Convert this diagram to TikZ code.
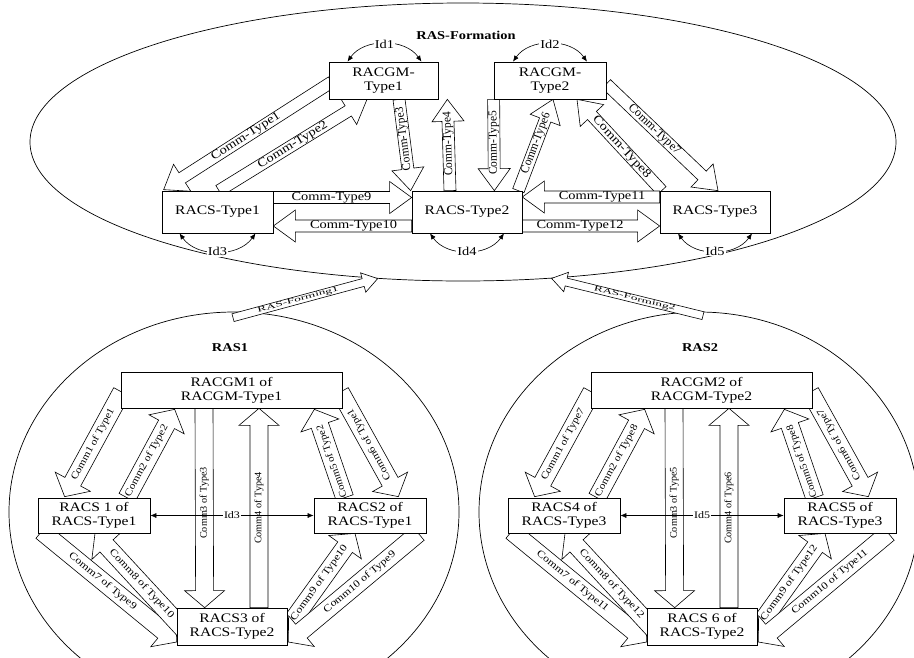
\documentclass[tikz,border=0pt]{standalone}
\usepackage{fontspec}
\setmainfont{Liberation Serif}[FakeStretch=1.2]
\usetikzlibrary{arrows.meta, calc, shapes.geometric, backgrounds}

% block arrow sizes (half shaft, half head, head length)
\newcommand{\arrsw}{6pt}
\newcommand{\arrhw}{16pt}
\newcommand{\arrhl}{22pt}
% hollow block arrow with its label: [label opts]{tail}{tip}{text}
\newcommand{\commarrow}[4][]{%
	\path (#2) coordinate (ca-s) (#3) coordinate (ca-t);
	\path ($(ca-t)!\arrhl!(ca-s)$) coordinate (ca-h);
	\draw[blockarrow] ($(ca-s)!\arrsw!90:(ca-t)$) -- ($(ca-h)!\arrsw!-90:(ca-s)$)
	-- ($(ca-h)!\arrhw!-90:(ca-s)$) -- (ca-t) -- ($(ca-h)!\arrhw!90:(ca-s)$)
	-- ($(ca-h)!\arrsw!90:(ca-s)$) -- ($(ca-s)!\arrsw!-90:(ca-t)$) -- cycle;
	\path let \p1=($(ca-t)-(ca-s)$), \n1={atan2(\y1,\x1)},
	\n2={ifthenelse(or(\n1>100,\n1<-80),\n1+180,\n1)} in
	node[commlabel, rotate=\n2, #1] at ($(ca-s)!0.5!(ca-h)$) {#4};
}

\tikzset{
	racbox/.style={draw, fill=white, line width=0.7pt, align=center, inner sep=1pt,
		font=\fontsize{13}{14}\selectfont},
	blockarrow/.style={draw, fill=white, line width=0.6pt, line join=miter},
	commlabel/.style={inner sep=0pt, font=\fontsize{12}{12}\selectfont},
	idarc/.style={line width=0.6pt, {Latex[length=6pt,width=5pt]}-{Latex[length=6pt,width=5pt]}},
	idlabel/.style={fill=white, inner sep=1pt, font=\fontsize{12}{12}\selectfont},
	regiontitle/.style={font=\bfseries\fontsize{12}{12}\selectfont},
	region/.style={draw, ellipse, line width=0.7pt, inner sep=0pt},
}

\begin{document}
\begin{tikzpicture}[x=1pt, y=-1pt]
	\useasboundingbox (0,0) rectangle (914,657);
	% RAS-Formation
	\node[region, minimum width=866pt, minimum height=278pt] (form) at (463,142) {};
	\node[regiontitle] (formtitle) at (466,35) {RAS-Formation};
	\node[racbox, minimum width=109pt, minimum height=37pt] (gm1) at (383.5,80.5) {RACGM-\\Type1};
	\node[racbox, minimum width=112pt, minimum height=37pt] (gm2) at (550,80.5) {RACGM-\\Type2};
	\node[racbox, minimum width=111pt, minimum height=42pt] (cs1) at (217.5,212) {RACS-Type1};
	\node[racbox, minimum width=110pt, minimum height=42pt] (cs2) at (467,212) {RACS-Type2};
	\node[racbox, minimum width=110pt, minimum height=42pt] (cs3) at (715,212) {RACS-Type3};
	\begin{scope}[on background layer]
		\commarrow[xshift=-13]{$(gm1.west)+(3,1.5)$}{$(cs1.north west)+(2,-1)$}{Comm-Type1}
		\commarrow[xshift=11]{$(cs1.north)+(1.5,0)$}{$(gm1.south)+(-16.5,0)$}{Comm-Type2}
		\commarrow[xscale=0.8, xshift=-6]{$(gm1.south)+(15.5,0)$}{$(cs2.north west)+(-1,0)$}{Comm-Type3}
		\commarrow[xscale=0.8, xshift=15]{$(cs2.north)+(-17,0)$}{$(gm1.south east)+(9,0)$}{Comm-Type4}
		\commarrow[xscale=0.8, xshift=-11]{gm2.south west}{$(cs2.north east)+(-28,0)$}{Comm-Type5}
		\commarrow[xscale=0.8, xshift=16]{$(cs2.north east)+(-4,0)$}{$(gm2.south)+(3,0)$}{Comm-Type6}
		\commarrow[xscale=0.85]{$(gm2.east)+(0,3.5)$}{$(cs3.north)+(3,0)$}{Comm-Type7}
		\commarrow[xshift=-8]{$(cs3.north west)+(2,0)$}{$(gm2.south)+(27,0)$}{Comm-Type8}
		\commarrow{$(cs1.east)+(0,-14.5)$}{$(cs2.west)+(0,-14.5)$}{Comm-Type9}
		\commarrow{$(cs2.west)+(0,14)$}{$(cs1.east)+(0,14)$}{Comm-Type10}
		\commarrow{$(cs3.west)+(0,-15)$}{$(cs2.east)+(0,-15)$}{Comm-Type11}
		\commarrow{$(cs2.east)+(0,14)$}{$(cs3.west)+(0,14)$}{Comm-Type12}
	\end{scope}
	\draw[idarc] ($(gm1.north)+(-36,0)$) to[bend left=55] node[idlabel] {Id1} ($(gm1.north)+(38,0)$);
	\draw[idarc] ($(gm2.north)+(-37,0)$) to[bend left=55] node[idlabel] {Id2} ($(gm2.north)+(37,0)$);
	\draw[idarc] ($(cs1.south)+(-38,0)$) to[bend right=55] node[idlabel] {Id3} ($(cs1.south)+(38,0)$);
	\draw[idarc] ($(cs2.south)+(-37,0)$) to[bend right=55] node[idlabel] {Id4} ($(cs2.south)+(37,0)$);
	\draw[idarc] ($(cs3.south)+(-37,0)$) to[bend right=55] node[idlabel] {Id5} ($(cs3.south)+(37,0)$);

	% RAS1
	\node[region, minimum width=450pt, minimum height=400pt] (ras1) at (234,512) {};
	\node[regiontitle] (ras1title) at (230,348) {RAS1};
	\node[racbox, minimum width=221pt, minimum height=36pt] (gm11) at (231.5,390) {RACGM1 of\\RACGM-Type1};
	\node[racbox, minimum width=112pt, minimum height=35pt] (cs11) at (94,515.5) {RACS 1 of\\RACS-Type1};
	\node[racbox, minimum width=112pt, minimum height=35pt] (cs12) at (370,515.5) {RACS2 of\\RACS-Type1};
	\node[racbox, minimum width=110pt, minimum height=37pt] (cs13) at (232,626.5) {RACS3 of\\RACS-Type2};
	% RAS2
	\node[region, minimum width=440pt, minimum height=400pt] (ras2) at (699,512) {};
	\node[regiontitle] (ras2title) at (700,348) {RAS2};
	\node[racbox, minimum width=221pt, minimum height=36pt] (gm21) at (701.5,390) {RACGM2 of\\RACGM-Type2};
	\node[racbox, minimum width=112pt, minimum height=35pt] (cs21) at (564,515.5) {RACS4 of\\RACS-Type3};
	\node[racbox, minimum width=112pt, minimum height=35pt] (cs22) at (840,515.5) {RACS5 of\\RACS-Type3};
	\node[racbox, minimum width=110pt, minimum height=37pt] (cs23) at (702,626.5) {RACS 6 of\\RACS-Type2};
	\begin{scope}[on background layer]
		\renewcommand{\arrsw}{9pt}\renewcommand{\arrhw}{20pt}\renewcommand{\arrhl}{17pt}
		\tikzset{commlabel/.append style={font=\fontsize{10}{10}\selectfont}}
		% inside RAS1
		\commarrow[xscale=0.95, xshift=-9]{$(gm11.west)+(1,2)$}{$(cs11.north west)+(27,-1)$}{Comm1 of Type1}
		\commarrow[xscale=0.95]{$(cs11.north)+(33,0)$}{$(gm11.south west)+(54,1)$}{Comm2 of Type2}
		\commarrow[xscale=0.85, xshift=-4]{$(gm11.south)+(-27.5,0)$}{$(cs13.north west)+(28,0)$}{Comm3 of Type3}
		\commarrow[xscale=0.85, xshift=10]{$(cs13.north)+(27,0)$}{$(gm11.south)+(27.5,0)$}{Comm4 of Type4}
		\commarrow[rotate=180, xscale=0.9]{$(cs12.north west)+(31,0)$}{$(gm11.south east)+(-28,1)$}{Comm5 of Type2}
		\commarrow[rotate=180, xscale=0.95, xshift=-9]{$(gm11.east)+(-2,2)$}{$(cs12.north east)+(-28,-1)$}{Comm6 of Type1}
		\commarrow{$(cs11.south west)+(4,-2)$}{$(cs13.west)+(0,15.5)$}{Comm7 of Type9}
		\commarrow[xshift=-6]{$(cs13.west)+(8,4)$}{$(cs11.south)+(1,0)$}{Comm8 of Type10}
		\commarrow[xshift=7]{$(cs13.east)+(-2,4)$}{$(cs12.south)+(-15,0)$}{Comm9 of Type10}
		\commarrow{$(cs12.south east)+(-8,0)$}{$(cs13.east)+(1,15.5)$}{Comm10 of Type9}
		% inside RAS2
		\commarrow[xscale=0.95, xshift=-9]{$(gm21.west)+(1,2)$}{$(cs21.north west)+(27,-1)$}{Comm1 of Type7}
		\commarrow[xscale=0.95]{$(cs21.north)+(33,0)$}{$(gm21.south west)+(54,1)$}{Comm2 of Type8}
		\commarrow[xscale=0.85, xshift=-4]{$(gm21.south)+(-27.5,0)$}{$(cs23.north west)+(28,0)$}{Comm3 of Type5}
		\commarrow[xscale=0.85, xshift=10]{$(cs23.north)+(27,0)$}{$(gm21.south)+(27.5,0)$}{Comm4 of Type6}
		\commarrow[rotate=180, xscale=0.9]{$(cs22.north west)+(31,0)$}{$(gm21.south east)+(-28,1)$}{Comm5 of Type8}
		\commarrow[rotate=180, xscale=0.95, xshift=-9]{$(gm21.east)+(-2,2)$}{$(cs22.north east)+(-28,-1)$}{Comm6 of Type7}
		\commarrow{$(cs21.south west)+(4,-2)$}{$(cs23.west)+(0,15.5)$}{Comm7 of Type11}
		\commarrow[xshift=-6]{$(cs23.west)+(8,4)$}{$(cs21.south)+(1,0)$}{Comm8 of Type12}
		\commarrow[xshift=7]{$(cs23.east)+(-2,4)$}{$(cs22.south)+(-15,0)$}{Comm9 of Type12}
		\commarrow{$(cs22.south east)+(-8,0)$}{$(cs23.east)+(1,15.5)$}{Comm10 of Type11}
	\end{scope}
	\draw[idarc] (cs11.east) -- node[idlabel, font=\fontsize{10}{10}\selectfont] {Id3} (cs12.west);
	\draw[idarc] (cs21.east) -- node[idlabel, font=\fontsize{10}{10}\selectfont] {Id5} (cs22.west);

	% forming arrows up to RAS-Formation
	\renewcommand{\arrsw}{4pt}\renewcommand{\arrhw}{10pt}\renewcommand{\arrhl}{15pt}
	\commarrow[font=\fontsize{7}{7}\selectfont, xscale=1.6]{$(ras1.north)+(-1,6)$}{form.238}{RAS-Forming1}
	\commarrow[font=\fontsize{7}{7}\selectfont, xscale=1.6]{$(ras2.north)+(4,4)$}{form.303}{RAS-Forming2}
\end{tikzpicture}
\end{document}
